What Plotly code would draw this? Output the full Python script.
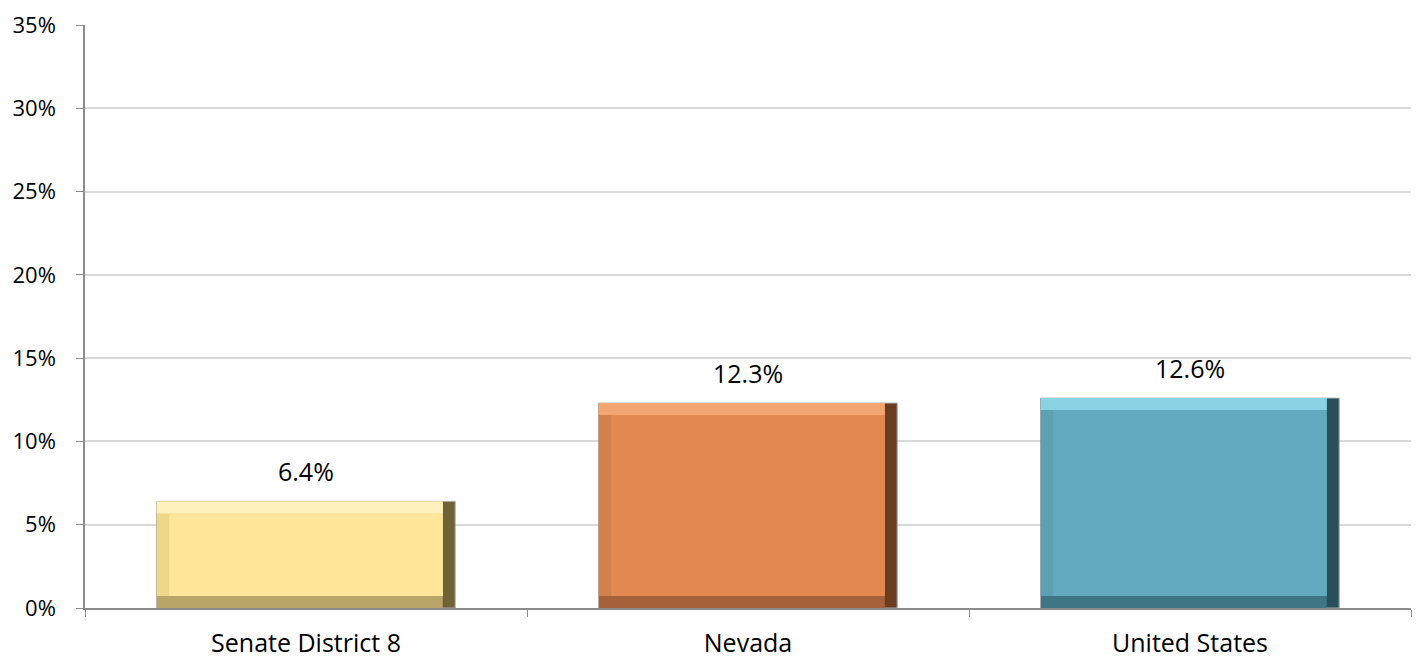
import plotly.graph_objects as go

categories = ["Senate District 8", "Nevada", "United States"]
values = [6.4, 12.3, 12.6]
labels = ["6.4%", "12.3%", "12.6%"]
colors = ["#FFE699", "#E2894F", "#63AABE"]
top_colors = ["#FFF1BE", "#F3A672", "#8CD2E5"]
left_colors = ["#EFD78A", "#D3804A", "#5BA0B3"]
right_colors = ["#6E6236", "#6B3C1E", "#27505B"]
bottom_colors = ["#B9A567", "#A6603A", "#3F7584"]

BAR_W = 0.675
BX = 0.028   # bevel width (category units)
BY = 0.72    # bevel height (axis units)

FONT = "Open Sans"

fig = go.Figure()
n = len(values)
common = dict(x=categories, hoverinfo="skip")
# right shade (full bar with thin outline)
fig.add_trace(go.Bar(**common, y=values, width=BAR_W,
                     marker=dict(color=right_colors, line=dict(color="#A6A6A6", width=1))))
# bottom shade
fig.add_trace(go.Bar(**common, y=values, width=BAR_W - BX, offset=-BAR_W / 2,
                     marker=dict(color=bottom_colors, line=dict(width=0))))
# left shade
fig.add_trace(go.Bar(**common, y=[v - BY for v in values], base=[BY] * n,
                     width=BAR_W - BX, offset=-BAR_W / 2,
                     marker=dict(color=left_colors, line=dict(width=0))))
# top highlight
fig.add_trace(go.Bar(**common, y=[BY] * n, base=[v - BY for v in values],
                     width=BAR_W - BX, offset=-BAR_W / 2,
                     marker=dict(color=top_colors, line=dict(width=0))))
# face
fig.add_trace(go.Bar(**common, y=[v - 2 * BY for v in values], base=[BY] * n,
                     width=BAR_W - 2 * BX, offset=-BAR_W / 2 + BX,
                     marker=dict(color=colors, line=dict(width=0))))

for c, v, t in zip(categories, values, labels):
    fig.add_annotation(x=c, y=v, text=t, showarrow=False, yanchor="bottom",
                       yshift=11, font=dict(family=FONT, size=25, color="#000"))

fig.update_layout(
    width=1421, height=658,
    margin=dict(l=77, r=18, t=17, b=58),
    paper_bgcolor="white", plot_bgcolor="white",
    showlegend=False, barmode="overlay",
    font=dict(family=FONT, size=25, color="#000"),
)
fig.update_yaxes(
    range=[0, 35], dtick=5, tick0=0, ticksuffix="%",
    showgrid=True, gridcolor="#D9D9D9", gridwidth=1.5,
    showline=True, linecolor="#8C8C8C", linewidth=1.5,
    ticks="outside", ticklen=7, tickcolor="#8C8C8C",
    ticklabelstandoff=16, automargin=False, ticklabeloverflow="allow",
    tickfont=dict(size=22),
    zeroline=False,
)
fig.update_xaxes(
    showline=True, linecolor="#8C8C8C", linewidth=1.5,
    ticks="outside", ticklen=7, tickcolor="#8C8C8C", tickson="boundaries",
    ticklabelstandoff=12, automargin=False, ticklabeloverflow="allow",
    showgrid=False,
)

fig.write_html("out.html")
